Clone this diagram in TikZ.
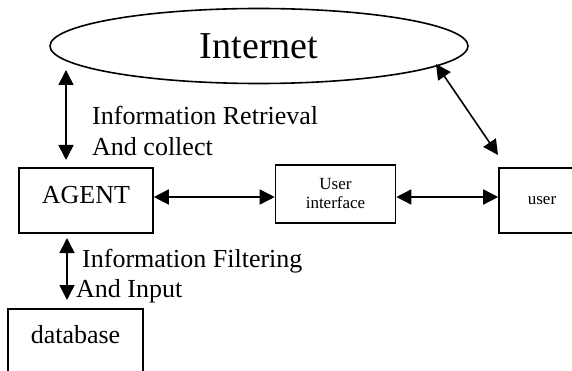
\documentclass[tikz,border=0pt]{standalone}
\usepackage{fontspec}
\setmainfont{Liberation Serif}
\usetikzlibrary{arrows.meta,shapes.geometric}
\tikzset{
  bigfont/.style={font=\fontsize{38}{42}\selectfont},
  midfont/.style={font=\fontsize{26}{30}\selectfont},
  smallfont/.style={font=\fontsize{17}{19}\selectfont},
  boxnode/.style={draw, line width=1.6pt, rectangle, inner sep=0pt},
  lbl/.style={midfont, anchor=base west, inner sep=0pt},
  biarrow/.style={line width=1.6pt,
    {Triangle[length=15pt,width=15pt]}-{Triangle[length=15pt,width=15pt]}},
}
\begin{document}
\begin{tikzpicture}[x=1pt,y=-1pt]
\useasboundingbox (0,0) rectangle (572,371);
\clip (0,0) rectangle (572,371);

% cloud of the network
\node[draw, ellipse, line width=1.6pt, minimum width=418pt, minimum height=75pt,
      inner sep=0pt, bigfont] (net) at (259,46) {Internet};

% blocks
\node[boxnode, midfont, minimum width=134pt, minimum height=65pt, text depth=12pt]
      (agent) at (86,200.5) {AGENT};
\node[boxnode, smallfont, align=center, minimum width=120pt, minimum height=58pt]
      (ui) at (335.5,194) {User\\interface};
\node[boxnode, smallfont, minimum width=86pt, minimum height=65pt]
      (user) at (542,200.5) {user};
\node[boxnode, midfont, anchor=north, minimum width=135pt, minimum height=100pt, text depth=48pt]
      (db) at (75.5,308) {database};

% free ends of the vertical and slanted links
\coordinate (irTop) at (66,70);
\coordinate (irBot) at (66,160);
\coordinate (ifTop) at (67,238);
\coordinate (ifBot) at (67,300);
\coordinate (netEnd) at (436,64);
\coordinate (userEnd) at (498,155);

% links
\draw[biarrow] (irTop) -- (irBot);
\draw[biarrow] (ifTop) -- (ifBot);
\draw[biarrow] (netEnd) -- (userEnd);
\draw[biarrow] ([yshift=3.5pt]agent.east) -- ([yshift=3.5pt]agent.east -| ui.west);
\draw[biarrow] ([yshift=3.5pt]agent.east -| ui.east) -- ([yshift=3.5pt]agent.east -| user.west);

% link labels
\node[lbl] (ir1) at (92,125) {Information Retrieval};
\node[lbl] (ir2) at (92,156) {And collect};
\node[lbl] (if1) at (82,267) {Information Filtering};
\node[lbl] (if2) at (76,297) {And Input};
\end{tikzpicture}
\end{document}
